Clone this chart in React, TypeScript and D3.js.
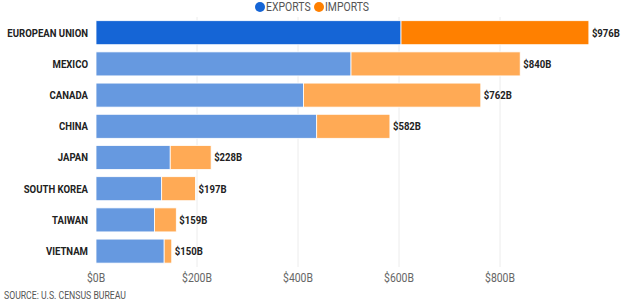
import { useEffect } from 'react';
import type { ReactNode } from 'react';
import * as d3 from 'd3';

const countries = ['EUROPEAN UNION', 'MEXICO', 'CANADA', 'CHINA', 'JAPAN', 'SOUTH KOREA', 'TAIWAN', 'VIETNAM'];
const exports = [604, 505, 411, 437, 147, 130, 116, 135];
const imports = [372, 335, 351, 145, 81, 67, 43, 15];
const totals = ['$976B', '$840B', '$762B', '$582B', '$228B', '$197B', '$159B', '$150B'];
const xTicks = [0, 200, 400, 600, 800];

const W = 622;
const H = 306;
const FONT = 'Roboto, "Noto Sans", sans-serif';
// condensed look: squeeze glyphs horizontally
const SQUEEZE = 0.87;

const COLORS = {
  expHi: '#1565d6',
  impHi: '#ff8000',
  exp: '#6699e0',
  imp: '#ffaa55',
};

type CTextProps = {
  x: number;
  y: number;
  size: number;
  fill: string;
  anchor?: 'start' | 'middle' | 'end';
  bold?: boolean;
  children: ReactNode;
};

function CText({ x, y, size, fill, anchor = 'start', bold = false, children }: CTextProps) {
  return (
    <g transform={`translate(${x},${y}) scale(${SQUEEZE},1)`}>
      <text dy="0.35em" textAnchor={anchor} fontSize={size} fontWeight={bold ? 700 : 400} fill={fill}>
        {children}
      </text>
    </g>
  );
}

export default function App() {
  useEffect(() => {
    document.body.style.margin = '0';
  }, []);

  const x = d3.scaleLinear().domain([0, 800]).range([96, 500]);
  const y = d3.scaleBand<string>().domain(countries).range([17.1, 266.7]).paddingInner(0.23).paddingOuter(0.115);
  const bw = y.bandwidth();

  return (
    <svg width={W} height={H} style={{ display: 'block', background: '#fff', fontFamily: FONT }}>
      {/* legend */}
      <g>
        <circle cx={260} cy={7} r={5} fill={COLORS.expHi} />
        <CText x={266} y={7} size={12} fill="#555">EXPORTS</CText>
        <circle cx={319} cy={7} r={5} fill={COLORS.impHi} />
        <CText x={325} y={7} size={12} fill="#555">IMPORTS</CText>
      </g>

      {/* grid */}
      {xTicks.slice(1).map(t => (
        <line key={t} x1={x(t)} x2={x(t)} y1={17} y2={267} stroke="#ececec" strokeWidth={1} />
      ))}

      {/* bars */}
      {countries.map((c, i) => {
        const y0 = y(c)!;
        const hi = i === 0;
        const xe = x(exports[i]);
        const xt = x(exports[i] + imports[i]);
        return (
          <g key={c}>
            <rect x={x(0)} y={y0} width={xe - x(0)} height={bw} fill={hi ? COLORS.expHi : COLORS.exp} stroke="#fff" strokeWidth={0.8} />
            <rect x={xe} y={y0} width={xt - xe} height={bw} fill={hi ? COLORS.impHi : COLORS.imp} stroke="#fff" strokeWidth={0.8} />
            <CText x={88} y={y0 + bw / 2} anchor="end" size={11} bold fill="#222">{c}</CText>
            <CText x={xt + 3} y={y0 + bw / 2} size={11} bold fill="#222">{totals[i]}</CText>
          </g>
        );
      })}

      {/* x axis labels */}
      {xTicks.map(t => (
        <CText key={t} x={x(t)} y={278} anchor="middle" size={12} fill="#666">${t}B</CText>
      ))}

      <CText x={4} y={295} size={10} fill="#555">SOURCE: U.S. CENSUS BUREAU</CText>
    </svg>
  );
}
